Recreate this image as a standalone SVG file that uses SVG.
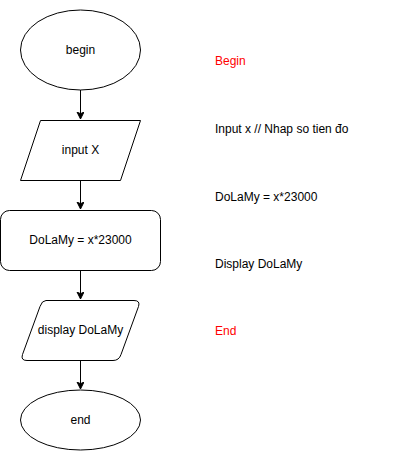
<svg xmlns="http://www.w3.org/2000/svg" width="401" height="451" viewBox="0 0 401 451">
<style>
.n{fill:#fff;stroke:#000;stroke-width:1}
.t{font-family:"Liberation Sans",Arial,sans-serif;font-size:12px;fill:#000;text-anchor:middle;dominant-baseline:central}
.l{font-family:"Liberation Sans",Arial,sans-serif;font-size:12px;fill:#000;dominant-baseline:central}
.r{fill:#ff0000}
.c{stroke:#000;stroke-width:1;fill:none}
</style>
<defs>
<marker id="a" markerWidth="10" markerHeight="10" refX="7" refY="3.5" orient="auto" markerUnits="userSpaceOnUse">
<path d="M0,0 L7,3.5 L0,7 L1.75,3.5 Z" fill="#000" stroke="#000" stroke-width="1"/>
</marker>
</defs>
<rect width="401" height="451" fill="#fff"/>
<g id="connectors">
<path class="c" d="M80.5,90 L80.5,119" marker-end="url(#a)"/>
<path class="c" d="M80.5,180 L80.5,209" marker-end="url(#a)"/>
<path class="c" d="M80.5,270 L80.5,299" marker-end="url(#a)"/>
<path class="c" d="M80.5,360 L80.5,389" marker-end="url(#a)"/>
</g>
<g id="begin">
<ellipse class="n" cx="80.5" cy="50" rx="60" ry="40"/>
<text class="t" x="80.5" y="50">begin</text>
</g>
<g id="input">
<polygon class="n" points="40.5,120.5 140.5,120.5 120.5,180.5 20.5,180.5"/>
<text class="t" x="80.5" y="150">input X</text>
</g>
<g id="process">
<rect class="n" x="0.5" y="210.5" width="160" height="60" rx="9" ry="9"/>
<text class="t" x="80.5" y="240">DoLaMy = x*23000</text>
</g>
<g id="display">
<path class="n" d="M46,300.5 L134,300.5 Q140.5,300.5 138.5,306.5 L121,354.5 Q119,360.5 113,360.5 L27,360.5 Q20.5,360.5 22.5,354.5 L40,306.5 Q42,300.5 46,300.5 Z"/>
<text class="t" x="80.5" y="330">display DoLaMy</text>
</g>
<g id="end">
<ellipse class="n" cx="80.5" cy="420" rx="60" ry="30"/>
<text class="t" x="80.5" y="420">end</text>
</g>
<g id="notes">
<text class="l r" x="215" y="61">Begin</text>
<text class="l" x="215" y="129">Input x // Nhap so tien đo</text>
<text class="l" x="215" y="197">DoLaMy = x*23000</text>
<text class="l" x="215" y="264">Display DoLaMy</text>
<text class="l r" x="215" y="331">End</text>
</g>
</svg>
